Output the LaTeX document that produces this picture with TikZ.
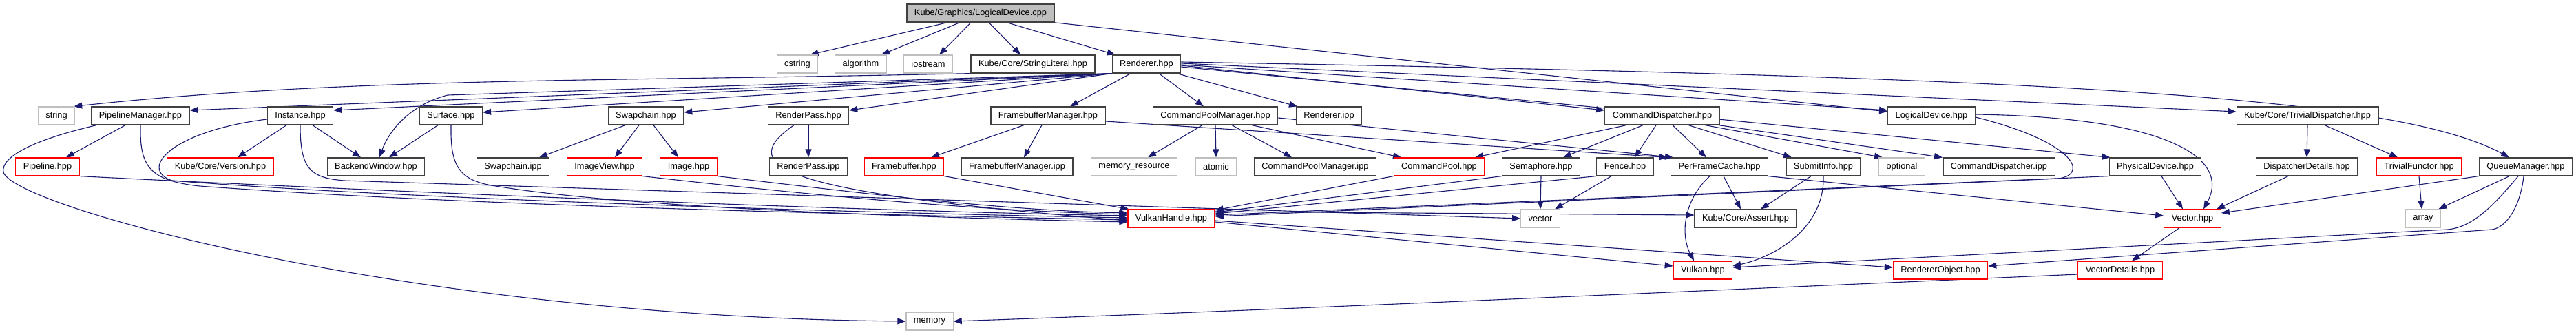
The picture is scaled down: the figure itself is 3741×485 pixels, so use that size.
\documentclass[tikz,border=0pt]{standalone}
\usepackage{fontspec}
\setmainfont{Liberation Sans}
\usetikzlibrary{arrows.meta}
\definecolor{edgecol}{HTML}{191970}
\definecolor{sysgray}{HTML}{BFBFBF}
\definecolor{boxblack}{HTML}{404040}
\definecolor{boxred}{HTML}{FF0000}
\pgfdeclarelayer{bg}
\pgfsetlayers{bg,main}
\tikzset{
  box/.style={draw=boxblack, line width=1.2pt, fill=white, minimum height=26pt, inner xsep=11pt, inner ysep=0pt, font=\fontsize{12.8pt}{15pt}\selectfont, text=black},
  sysbox/.style={box, draw=sysgray},
  redbox/.style={box, draw=boxred},
  topbox/.style={box, fill=sysgray},
  dep/.style={draw=edgecol, line width=1.1pt, -{Triangle[length=12pt,width=9pt]}},
}
\begin{document}
\begin{tikzpicture}[x=1pt,y=-1pt]
\useasboundingbox (0,0) rectangle (3741,485);
% row 0
\node[topbox] (top) at (1424,19) {Kube/Graphics/LogicalDevice.cpp};
% row 1
\node[sysbox] (cstring) at (1158,93) {cstring};
\node[sysbox] (algorithm) at (1250,93) {algorithm};
\node[sysbox] (iostream) at (1348,93) {iostream};
\node[box] (strlit) at (1500,93) {Kube/Core/StringLiteral.hpp};
\node[box] (renderer) at (1665,93) {Renderer.hpp};
% row 2
\node[sysbox] (string) at (82,168) {string};
\node[box] (pipemgr) at (204,168) {PipelineManager.hpp};
\node[box] (instance) at (436,168) {Instance.hpp};
\node[box] (surface) at (655,168) {Surface.hpp};
\node[box] (swapchain) at (938,168) {Swapchain.hpp};
\node[box] (renderpass) at (1174,168) {RenderPass.hpp};
\node[box] (fbmgr) at (1522,168) {FramebufferManager.hpp};
\node[box] (cpmgr) at (1765,168) {CommandPoolManager.hpp};
\node[box] (rendipp) at (1930,168) {Renderer.ipp};
\node[box] (cmddisp) at (2414,168) {CommandDispatcher.hpp};
\node[box] (logdev) at (2805,168) {LogicalDevice.hpp};
\node[box] (trivdisp) at (3351,168) {Kube/Core/TrivialDispatcher.hpp};
% row 3
\node[redbox] (pipeline) at (69,242) {Pipeline.hpp};
\node[redbox] (version) at (320,242) {Kube/Core/Version.hpp};
\node[box] (backend) at (546,242) {BackendWindow.hpp};
\node[box] (swipp) at (745,242) {Swapchain.ipp};
\node[redbox] (imgview) at (878,242) {ImageView.hpp};
\node[redbox] (image) at (1000,242) {Image.hpp};
\node[box] (rpipp) at (1174,242) {RenderPass.ipp};
\node[redbox] (fb) at (1313,242) {Framebuffer.hpp};
\node[box] (fbmipp) at (1477,242) {FramebufferManager.ipp};
\node[sysbox] (memres) at (1647,242) {memory\_resource};
\node[sysbox] (atomic) at (1766,242) {atomic};
\node[box] (cpmipp) at (1910,242) {CommandPoolManager.ipp};
\node[redbox] (cmdpool) at (2090,242) {CommandPool.hpp};
\node[box] (semaphore) at (2238,242) {Semaphore.hpp};
\node[box] (fence) at (2360,242) {Fence.hpp};
\node[box] (pfc) at (2497,242) {PerFrameCache.hpp};
\node[box] (submit) at (2648,242) {SubmitInfo.hpp};
\node[sysbox] (optional) at (2762,242) {optional};
\node[box] (cdipp) at (2903,242) {CommandDispatcher.ipp};
\node[box] (physdev) at (3130,242) {PhysicalDevice.hpp};
\node[box] (dispdet) at (3350,242) {DispatcherDetails.hpp};
\node[redbox] (trivfun) at (3513,242) {TrivialFunctor.hpp};
\node[box] (queuemgr) at (3668,242) {QueueManager.hpp};
% row 4
\node[redbox] (vkhandle) at (1701,317) {VulkanHandle.hpp};
\node[sysbox] (vector) at (2237,317) {vector};
\node[box] (assert) at (2535,317) {Kube/Core/Assert.hpp};
\node[redbox] (vec) at (3184,317) {Vector.hpp};
\node[sysbox] (array) at (3519,317) {array};
% row 5
\node[redbox] (vulkan) at (2473,392) {Vulkan.hpp};
\node[redbox] (rendobj) at (2818,392) {RendererObject.hpp};
\node[redbox] (vecdet) at (3079,392) {VectorDetails.hpp};
% row 6
\node[sysbox] (memory) at (1350,466) {memory};

\begin{pgfonlayer}{bg}
\fill[white] (0,0) rectangle (3741,485);
% from LogicalDevice.cpp
\draw[dep] ([xshift=-48pt]top.south) -- ([xshift=-12pt]cstring.north east);
\draw[dep] ([xshift=-30pt]top.south) -- ([xshift=-8pt]algorithm.north east);
\draw[dep] ([xshift=-14pt]top.south) -- ([xshift=-20pt]iostream.north east);
\draw[dep] ([xshift=12pt]top.south) -- ([xshift=-18pt]strlit.north);
\draw[dep] ([xshift=38pt]top.south) -- ([xshift=5pt]renderer.north west);
\draw[dep] ([xshift=-2pt]top.south east) -- ([yshift=6pt]logdev.west);
% StringLiteral
\draw[dep] (strlit.south west) .. controls (900,118) and (500,112) .. ([xshift=-2pt]string.north east);
% Renderer to the left
\draw[dep] (renderer.south west) -- ([yshift=8pt]pipemgr.east);
\draw[dep] (renderer.south west) -- ([yshift=8pt]instance.east);
\draw[dep] (renderer.south west) -- ([yshift=5pt]surface.east);
\draw[dep] (renderer.south west) -- ([yshift=5pt]swapchain.east);
\draw[dep] (renderer.south west) -- ([yshift=8pt]renderpass.east);
\draw[dep] (renderer.south west) -- (650,138) .. controls (595,152) and (565,190) .. ([xshift=5pt]backend.north);
\draw[dep] ([xshift=-23pt]renderer.south) -- ([xshift=32pt]fbmgr.north);
\draw[dep] ([xshift=18pt]renderer.south) -- ([xshift=-17pt]cpmgr.north);
\draw[dep] ([xshift=44pt]renderer.south) -- ([xshift=-46pt]rendipp.north);
% Renderer to the right
\draw[dep] ([yshift=-2pt]renderer.east) -- ([yshift=8pt]cmddisp.west);
\draw[dep] ([yshift=-1pt]renderer.east) -- ([yshift=8pt]logdev.west);
\draw[dep] ([yshift=-4pt]renderer.east) -- ([xshift=2pt]physdev.north west);
\draw[dep] ([yshift=1pt]renderer.east) -- ([yshift=6pt]trivdisp.west);
\draw[dep] ([yshift=3pt]renderer.east) .. controls (3000,112) and (3480,140) .. ([xshift=-24pt]queuemgr.north);
% PipelineManager
\draw[dep] ([xshift=-22pt]pipemgr.south) -- ([xshift=27pt]pipeline.north);
\draw[dep] (pipemgr.south) .. controls (203,240) and (215,262) .. (290,270) .. controls (700,300) and (1300,312) .. ([yshift=-2pt]vkhandle.west);
\draw[dep] ([xshift=8pt]pipemgr.south west) .. controls (60,200) and (0,225) .. (5,250) .. controls (20,300) and (600,460) .. (memory.west);
% Pipeline
\draw[dep] (pipeline.south east) .. controls (500,275) and (1200,305) .. ([yshift=4pt]vkhandle.west);
% Instance
\draw[dep] ([xshift=-20pt]instance.south) -- ([xshift=25pt]version.north);
\draw[dep] ([xshift=18pt]instance.south) -- ([xshift=-22pt]backend.north);
\draw[dep] ([yshift=-5pt]instance.west) .. controls (250,190) and (200,245) .. (250,262) .. controls (600,290) and (1300,310) .. ([yshift=1pt]vkhandle.west);
\draw[dep] (instance.south) .. controls (436,245) and (450,258) .. (500,262) -- (vector.west);
% Surface
\draw[dep] ([xshift=-19pt]surface.south) -- ([xshift=19pt]backend.north);
\draw[dep] (surface.south) .. controls (654,240) and (665,262) .. (720,270) .. controls (900,300) and (1300,315) .. ([yshift=-5pt]vkhandle.west);
% Swapchain
\draw[dep] ([xshift=-30pt]swapchain.south) -- ([xshift=38pt]swipp.north);
\draw[dep] ([xshift=-10pt]swapchain.south) -- ([xshift=15pt]imgview.north);
\draw[dep] ([xshift=11pt]swapchain.south) -- ([xshift=-15pt]image.north);
\draw[dep] (imgview.south east) .. controls (1150,280) and (1400,305) .. ([yshift=6pt]vkhandle.west);
\draw[dep] (image.south east) .. controls (1250,280) and (1450,305) .. ([yshift=8pt]vkhandle.west);
% RenderPass
\draw[dep] (renderpass.south) -- (rpipp.north);
\draw[dep] ([xshift=-21pt]renderpass.south) .. controls (1060,245) and (1150,280) .. ([yshift=-3pt]vkhandle.west);
% FramebufferManager
\draw[dep] ([xshift=-35pt]fbmgr.south) -- ([xshift=39pt]fb.north);
\draw[dep] ([xshift=-9pt]fbmgr.south) -- ([xshift=10pt]fbmipp.north);
\draw[dep] ([yshift=-8pt]fbmgr.east) -- ([xshift=-4pt]pfc.north west);
\draw[dep] (fb.south east) -- ([xshift=2pt]vkhandle.north west);
% CommandPoolManager
\draw[dep] ([xshift=-19pt]cpmgr.south) -- ([xshift=20pt]memres.north);
\draw[dep] (cpmgr.south) -- (atomic.north);
\draw[dep] ([xshift=24pt]cpmgr.south) -- ([xshift=-34pt]cpmipp.north);
\draw[dep] ([xshift=53pt]cpmgr.south) -- ([xshift=-55pt]cmdpool.north);
\draw[dep] ([yshift=-3pt]cpmgr.east) -- ([xshift=4pt]pfc.north west);
% CommandDispatcher
\draw[dep] ([xshift=-52pt]cmddisp.south) -- ([xshift=52pt]cmdpool.north);
\draw[dep] ([xshift=-28pt]cmddisp.south) -- ([xshift=32pt]semaphore.north);
\draw[dep] ([xshift=-9pt]cmddisp.south) -- ([xshift=14pt]fence.north);
\draw[dep] ([xshift=15pt]cmddisp.south) -- ([xshift=-19pt]pfc.north);
\draw[dep] ([xshift=38pt]cmddisp.south) -- ([xshift=-46pt]submit.north);
\draw[dep] ([xshift=62pt]cmddisp.south) -- ([xshift=-28pt]optional.north);
\draw[dep] ([xshift=-2pt]cmddisp.south east) -- ([xshift=-82pt]cdipp.north);
% into VulkanHandle from the right
\draw[dep] (cmdpool.south west) -- ([yshift=12pt]vkhandle.east);
\draw[dep] (semaphore.south west) -- ([yshift=9pt]vkhandle.east);
\draw[dep] (fence.south west) -- ([yshift=7pt]vkhandle.east);
\draw[dep] ([yshift=-2pt]logdev.east) .. controls (3010,205) and (3035,252) .. (2990,259) -- ([yshift=3pt]vkhandle.east);
\draw[dep] (physdev.south west) -- ([yshift=5pt]vkhandle.east);
% Semaphore, Fence
\draw[dep] (semaphore.south) -- (vector.north);
\draw[dep] ([xshift=-20pt]fence.south) -- ([xshift=21pt]vector.north);
% VulkanHandle out
\draw[dep] ([yshift=10pt]vkhandle.east) -- ([yshift=5pt]assert.west);
\draw[dep] ([yshift=-5pt]vkhandle.east) -- ([yshift=6pt]vulkan.west);
\draw[dep] ([yshift=-3pt]vkhandle.east) -- ([yshift=4pt]rendobj.west);
% PerFrameCache
\draw[dep] ([xshift=6pt]pfc.south) -- ([xshift=-7pt]assert.north);
\draw[dep] ([xshift=-14pt]pfc.south) .. controls (2445,290) and (2440,340) .. ([xshift=-13pt]vulkan.north);
\draw[dep] (pfc.south east) -- ([yshift=4pt]vec.west);
% SubmitInfo
\draw[dep] ([xshift=-18pt]submit.south) -- ([xshift=22pt]assert.north);
\draw[dep] (submit.south) .. controls (2650,330) and (2580,372) .. ([yshift=6pt]vulkan.east);
% LogicalDevice -> Vector
\draw[dep] ([yshift=2pt]logdev.east) .. controls (3150,170) and (3240,230) .. ([xshift=16pt]vec.north);
% PhysicalDevice
\draw[dep] ([xshift=9pt]physdev.south) -- ([xshift=-14pt]vec.north);
% TrivialDispatcher
\draw[dep] (trivdisp.south) -- (dispdet.north);
\draw[dep] ([xshift=25pt]trivdisp.south) -- ([xshift=-31pt]trivfun.north);
\draw[dep] ([xshift=-27pt]dispdet.south) -- ([xshift=35pt]vec.north);
\draw[dep] (trivfun.south) -- ([xshift=-2pt]array.north);
% QueueManager
\draw[dep] (queuemgr.south west) -- ([yshift=8pt]vec.east);
\draw[dep] ([xshift=-24pt]queuemgr.south) -- ([xshift=-4pt]array.north east);
\draw[dep] ([xshift=-11pt]queuemgr.south) .. controls (3620,300) and (3590,330) .. (3554,333) -- ([yshift=4pt]vulkan.east);
\draw[dep] ([xshift=-3pt]queuemgr.south) .. controls (3660,300) and (3640,330) .. (3619,333) -- ([yshift=6pt]rendobj.east);
% Vector
\draw[dep] ([xshift=-19pt]vec.south) -- ([xshift=17pt]vecdet.north);
\draw[dep] ([yshift=-6pt]vecdet.west) .. controls (2400,425) and (1800,452) .. (memory.east);
\end{pgfonlayer}
\end{tikzpicture}
\end{document}
